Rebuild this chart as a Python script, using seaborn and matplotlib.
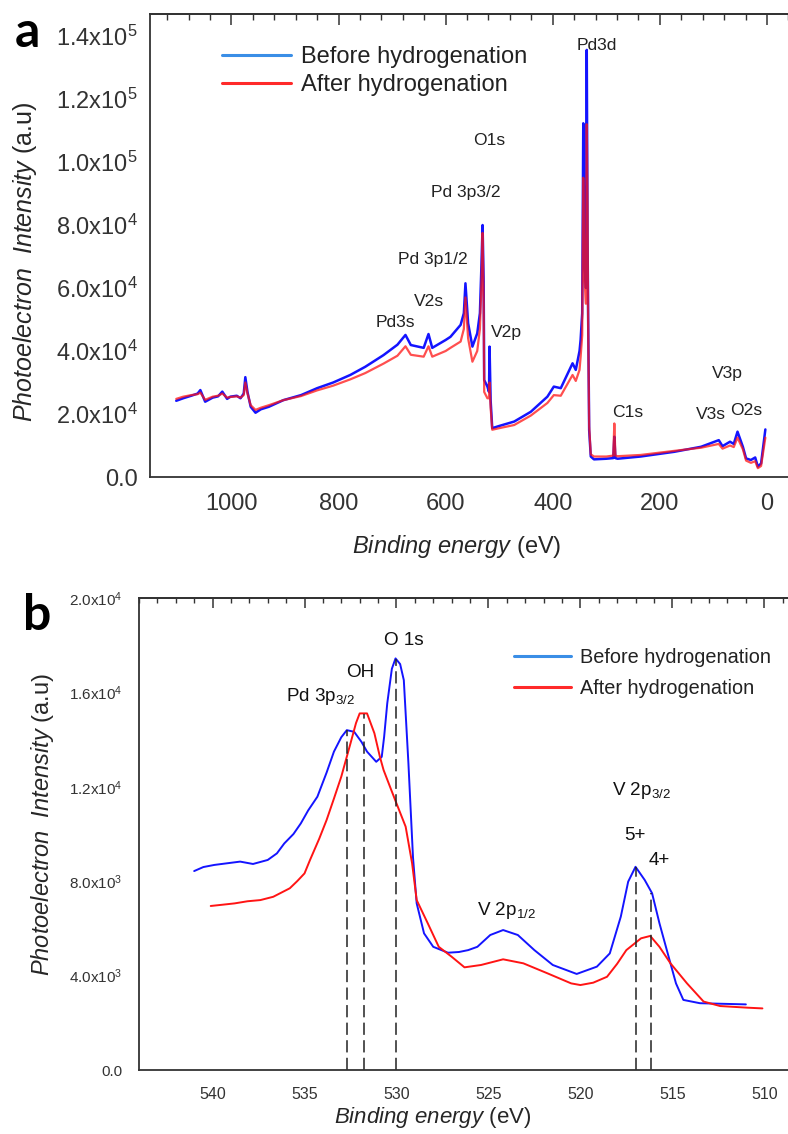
import numpy as np
import pandas as pd
import matplotlib
matplotlib.use('Agg')
import matplotlib.pyplot as plt
import seaborn as sns
from matplotlib.ticker import MultipleLocator, FuncFormatter, NullFormatter
from matplotlib.lines import Line2D

# ---------------- Panel a: survey spectrum ----------------
a_energy = [1103, 1090, 1075, 1063, 1058, 1049, 1035, 1025, 1017, 1008, 1002, 990, 983, 977,
            974, 970, 964, 955, 945, 930, 903, 870, 840, 810, 778, 750, 716, 690, 675, 665,
            641, 632, 625, 600, 591, 572, 566, 563, 558, 550, 541, 536, 533, 531, 529, 528,
            522, 519, 518, 516, 513, 500, 472, 441, 410, 398, 385, 363, 357, 350, 348, 345,
            343, 341, 338, 336.5, 335, 334, 332, 329, 323, 300, 287, 285, 283, 279, 236, 173,
            123, 90, 83, 69, 62, 55, 45, 39, 30, 22, 17, 11, 3]
a_before = [24200, 25000, 25800, 26500, 27600, 23900, 25200, 25600, 27100, 24800, 25500, 25800, 25000, 26500,
            31700, 27000, 22300, 20400, 21500, 22300, 24400, 26000, 28200, 30000, 32400, 35000, 38700, 42000, 45100, 41900,
            41000, 45400, 41000, 43500, 44500, 48300, 52000, 61500, 48800, 41400, 45600, 52000, 68000, 80000, 62000, 30800,
            28700, 27000, 41400, 24400, 15500, 16200, 17600, 20700, 25500, 28700, 28200, 36100, 34000, 40000, 43500, 52000,
            112300, 70000, 60000, 135600, 76300, 53000, 14900, 6500, 5600, 5800, 6000, 12800, 6000, 5800, 6500, 8000,
            9600, 11700, 9800, 11200, 10500, 14400, 9600, 5900, 5400, 6200, 3300, 4300, 15100]
a_after = [24800, 25500, 26000, 26300, 26800, 24500, 25500, 25800, 26500, 25200, 25400, 25600, 25200, 26000,
           30000, 26500, 22800, 21300, 22000, 22800, 24400, 25700, 27500, 29000, 31000, 33000, 36000, 38500, 41500, 38800,
           38200, 41500, 38200, 40000, 41000, 43000, 47000, 57000, 44000, 36600, 40000, 47000, 62000, 77500, 55000, 27000,
           25000, 25000, 30000, 22000, 15000, 15500, 16500, 19500, 23500, 26000, 25800, 32400, 30500, 34000, 38000, 45000,
           95000, 65000, 55000, 112000, 85000, 50000, 16000, 7200, 6500, 6500, 6800, 17000, 6800, 6600, 7000, 8300,
           9300, 10500, 9000, 10000, 9500, 12500, 8800, 5200, 4500, 5000, 2800, 3500, 12500]

a_labels = ['Pd3d', 'O1s', 'Pd 3p3/2', 'Pd 3p1/2', 'V2s', 'Pd3s', 'V2p', 'C1s', 'V3s', 'O2s', 'V3p']
a_label_x = [318, 519, 562, 624, 631, 693, 487, 260, 105, 39, 73]
a_label_y = [137000, 106700, 90200, 69200, 55600, 49200, 46000, 20600, 19700, 21000, 33000]

# ---------------- Panel b: O1s / V2p region ----------------
b_energy_before = [541.0, 540.5, 539.9, 539.2, 538.5, 537.8, 537.0, 536.5, 536.1, 535.6, 535.2, 534.8,
                   534.3, 533.8, 533.4, 533.0, 532.7, 532.3, 531.9, 531.6, 531.1, 530.8, 530.67, 530.5,
                   530.25, 530.05, 529.8, 529.6, 529.35, 529.1, 528.9, 528.5, 528.0, 527.2, 526.6, 526.1,
                   525.6, 524.9, 524.2, 523.4, 522.5, 521.5, 520.2, 519.1, 518.4, 517.8, 517.4, 517.0,
                   516.5, 516.1, 515.7, 515.2, 514.8, 514.4, 513.5, 512.0, 511.0]
b_before = [8430, 8600, 8690, 8760, 8830, 8730, 8900, 9180, 9600, 10000, 10450, 11000,
            11580, 12600, 13490, 14100, 14400, 14330, 13900, 13490, 13060, 13270, 14120, 15540,
            17000, 17440, 17200, 16520, 13000, 9000, 7060, 5790, 5220, 4970, 5000, 5080,
            5220, 5720, 5930, 5720, 5080, 4450, 4070, 4380, 4940, 6500, 7980, 8610,
            8050, 7490, 6220, 4800, 3670, 2970, 2830, 2800, 2780]
b_energy_after = [540.1, 539.5, 538.8, 538.1, 537.4, 536.7, 535.8, 535.4, 535.0, 534.7, 534.2, 533.8,
                  533.4, 533.0, 532.5, 532.2, 532.0, 531.6, 531.2, 530.9, 530.7, 530.3, 530.0, 529.5,
                  529.15, 528.9, 528.3, 527.7, 527.0, 526.3, 525.4, 524.2, 523.1, 521.8, 520.5, 520.0,
                  519.3, 518.55, 518.0, 517.5, 516.7, 516.2, 515.7, 515.1, 514.2, 513.3, 512.4, 510.9, 510.1]
b_after = [6950, 7000, 7060, 7150, 7200, 7340, 7700, 8000, 8330, 8900, 9800, 10590,
           11500, 12430, 13840, 14700, 15110, 15110, 14270, 13270, 12710, 11900, 11300, 10310,
           8760, 7200, 6220, 5220, 4800, 4350, 4450, 4690, 4520, 4100, 3670, 3600,
           3700, 3950, 4500, 5080, 5580, 5680, 5220, 4520, 3670, 2900, 2710, 2640, 2610]

b_peak_pos = [532.7, 531.75, 530.05, 517.0, 516.15]
b_peak_top = [14400, 15100, 17400, 8600, 7500]

b_labels = [r'Pd 3p$_{\mathregular{3/2}}$', 'OH', 'O 1s', r'V 2p$_{\mathregular{3/2}}$', '5+', '4+',
            r'V 2p$_{\mathregular{1/2}}$']
b_label_x = [536.0, 531.95, 529.6, 518.3, 517.03, 515.72, 525.6]
b_label_y = [15650, 16650, 18000, 11650, 9750, 8690, 6570]
b_label_ha = ['left', 'center', 'center', 'left', 'center', 'center', 'left']

series_names = ['Before hydrogenation', 'After hydrogenation']
line_colors = ['#1414ff', '#ff1414']
legend_colors = ['#3a8ee6', '#ff2a2a']

# ---------------- styling ----------------
sns.set_style('white')
plt.rcParams['font.family'] = ['Liberation Sans', 'DejaVu Sans']
plt.rcParams['mathtext.fontset'] = 'custom'
plt.rcParams['mathtext.rm'] = 'Liberation Sans'
plt.rcParams['mathtext.it'] = 'Liberation Sans:italic'
plt.rcParams['mathtext.bf'] = 'Liberation Sans:bold'
plt.rcParams['axes.edgecolor'] = '#333333'
plt.rcParams['xtick.color'] = '#333333'
plt.rcParams['ytick.color'] = '#333333'
plt.rcParams['text.color'] = '#222222'


def sci_fmt(v, pos):
    if abs(v) < 1e-9:
        return '0.0'
    e = int(np.floor(np.log10(abs(v)) + 1e-9))
    m = v / 10 ** e
    return r'$\mathregular{%.1fx10^{%d}}$' % (m, e)


W, H = 788, 1134
fig = plt.figure(figsize=(W / 100, H / 100), dpi=100)
axa = fig.add_axes([150 / W, 1 - 477 / H, 640 / W, 463 / H])
axb = fig.add_axes([139 / W, 1 - 1070 / H, 651 / W, 472 / H])

# ---- panel a curves ----
df_a = pd.DataFrame({'energy': a_energy * 2,
                     'intensity': a_before + a_after,
                     'sample': [series_names[0]] * len(a_energy) + [series_names[1]] * len(a_energy)})
sns.lineplot(data=df_a[df_a['sample'] == series_names[0]], x='energy', y='intensity',
             color=line_colors[0], lw=1.8, sort=False, estimator=None, ax=axa, legend=False)
sns.lineplot(data=df_a[df_a['sample'] == series_names[1]], x='energy', y='intensity',
             color=line_colors[1], lw=1.6, alpha=0.75, sort=False, estimator=None, ax=axa, legend=False)

axa.set_xlim(1152, -43)
axa.set_ylim(0, 1.47e5)
axa.xaxis.set_major_locator(MultipleLocator(200))
axa.xaxis.set_minor_locator(MultipleLocator(40))
axa.yaxis.set_major_locator(MultipleLocator(20000))
axa.yaxis.set_minor_locator(MultipleLocator(10000))
axa.yaxis.set_major_formatter(FuncFormatter(sci_fmt))
axa.tick_params(axis='x', which='major', direction='out', length=4.5, width=1.1, pad=7, labelsize=17)
axa.tick_params(axis='x', which='minor', direction='out', length=2.5, width=1.0)
axa.tick_params(axis='y', which='major', direction='out', length=7, width=1.1, pad=2, labelsize=17)
axa.tick_params(axis='y', which='minor', direction='out', length=4, width=1.0)
axa.spines['right'].set_visible(False)
for s in ['left', 'bottom', 'top']:
    axa.spines[s].set_linewidth(1.3)
seca = axa.secondary_xaxis('top')
seca.xaxis.set_major_locator(MultipleLocator(200))
seca.xaxis.set_minor_locator(MultipleLocator(40))
seca.xaxis.set_major_formatter(NullFormatter())
seca.tick_params(which='major', direction='in', length=8, width=1.1)
seca.tick_params(which='minor', direction='in', length=4, width=1.0)
seca.spines['top'].set_linewidth(1.3)

axa.set_xlabel(r'$\mathit{Binding\ energy}$ (eV)', fontsize=17)
axa.set_ylabel(r'$\mathit{Photoelectron\ \ Intensity}$ (a.u)', fontsize=18)
axa.xaxis.set_label_coords(0.48, -0.122)
axa.yaxis.set_label_coords(-0.174, 0.464)

for t, x, y in zip(a_labels, a_label_x, a_label_y):
    axa.text(x, y, t, ha='center', va='center', fontsize=12.6, color='#222222')

handles = [Line2D([], [], color=c, lw=2.2) for c in legend_colors]
axa.legend(handles, series_names, loc='upper left', bbox_to_anchor=(0.113, 0.93),
           frameon=False, fontsize=17, handlelength=2.9, handletextpad=0.42,
           labelspacing=0.25, borderpad=0, borderaxespad=0)

# ---- panel b curves ----
df_b = pd.DataFrame({'energy': b_energy_before + b_energy_after,
                     'intensity': b_before + b_after,
                     'sample': [series_names[0]] * len(b_before) + [series_names[1]] * len(b_after)})
sns.lineplot(data=df_b, x='energy', y='intensity', hue='sample', hue_order=series_names,
             palette=dict(zip(series_names, line_colors)), lw=1.4, sort=False, estimator=None,
             ax=axb, legend=False)
axb.vlines(b_peak_pos, 0, b_peak_top, colors='#222222', linestyles=(0, (8, 3.5)), lw=1.1)

axb.set_xlim(544, 508.6)
axb.set_ylim(0, 20000)
axb.xaxis.set_major_locator(MultipleLocator(5))
axb.xaxis.set_minor_locator(MultipleLocator(1))
axb.yaxis.set_major_locator(MultipleLocator(4000))
axb.yaxis.set_minor_locator(MultipleLocator(800))
axb.yaxis.set_major_formatter(FuncFormatter(sci_fmt))
axb.tick_params(axis='x', which='major', direction='out', length=7, width=1.1, pad=5, labelsize=11.5)
axb.tick_params(axis='x', which='minor', direction='out', length=4, width=1.0)
axb.tick_params(axis='y', which='major', direction='out', length=8, width=1.1, pad=4, labelsize=11)
axb.tick_params(axis='y', which='minor', direction='out', length=4.3, width=1.0)
axb.spines['right'].set_visible(False)
for s in ['left', 'bottom', 'top']:
    axb.spines[s].set_linewidth(1.3)
secb = axb.secondary_xaxis('top')
secb.xaxis.set_major_locator(MultipleLocator(5))
secb.xaxis.set_minor_locator(MultipleLocator(1))
secb.xaxis.set_major_formatter(NullFormatter())
secb.tick_params(which='major', direction='in', length=7, width=1.1)
secb.tick_params(which='minor', direction='in', length=3.6, width=1.0)
secb.spines['top'].set_linewidth(1.3)

axb.set_xlabel(r'$\mathit{Binding\ energy}$ (eV)', fontsize=16)
axb.set_ylabel(r'$\mathit{Photoelectron\ \ Intensity}$ (a.u)', fontsize=17)
axb.xaxis.set_label_coords(0.451, -0.074)
axb.yaxis.set_label_coords(-0.128, 0.519)

for t, x, y, ha in zip(b_labels, b_label_x, b_label_y, b_label_ha):
    axb.text(x, y, t, ha=ha, va='baseline', fontsize=13.6, color='#111111')

axb.legend(handles, series_names, loc='upper left', bbox_to_anchor=(0.576, 0.894),
           frameon=False, fontsize=14.3, handlelength=2.85, handletextpad=0.46,
           labelspacing=0.6, borderpad=0, borderaxespad=0)

# panel letters
fig.text(15 / W, 1 - 47 / H, 'a', fontsize=36, fontweight='bold', family=['Lato', 'DejaVu Sans'],
         ha='left', va='baseline', color='black')
fig.text(23 / W, 1 - 630 / H, 'b', fontsize=36, fontweight='bold', family=['Lato', 'DejaVu Sans'],
         ha='left', va='baseline', color='black')

fig.savefig('out.png', dpi=100)
